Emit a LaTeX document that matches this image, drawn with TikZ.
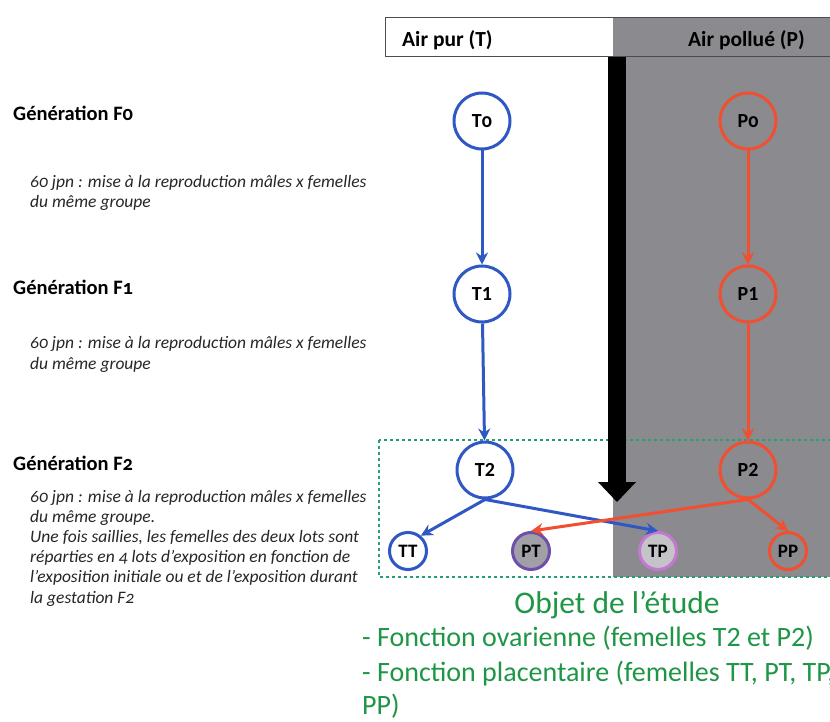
\documentclass[tikz,border=0pt]{standalone}
\usepackage{fontspec}
\setmainfont{Carlito}
\usetikzlibrary{arrows.meta}
\definecolor{tblue}{RGB}{48,88,196}
\definecolor{pred}{RGB}{242,78,48}
\definecolor{bggray}{RGB}{138,138,143}
\definecolor{boxgreen}{RGB}{40,160,110}
\definecolor{txtgreen}{RGB}{30,150,70}
\definecolor{ptfill}{RGB}{160,160,166}
\definecolor{ptborder}{RGB}{110,80,170}
\definecolor{tpfill}{RGB}{196,196,200}
\definecolor{tpborder}{RGB}{196,120,210}
\tikzset{
  bignode/.style={circle, draw, line width=3pt, minimum size=56pt, inner sep=0pt,
    font=\fontsize{20}{22}\selectfont\bfseries},
  smallnode/.style={circle, draw, line width=3pt, minimum size=37pt, inner sep=0pt,
    font=\fontsize{19}{21}\selectfont\bfseries},
  tarrow/.style={tblue, line width=3pt, -{Stealth[length=12pt,width=12pt]}},
  parrow/.style={pred, line width=3pt, -{Stealth[length=12pt,width=12pt]}},
  genhead/.style={anchor=base west, inner sep=0pt, font=\fontsize{20.5}{22}\selectfont\bfseries\addfontfeatures{Numbers=OldStyle}},
  gentext/.style={anchor=base west, inner sep=0pt, align=left, text=black!85,
    font=\fontsize{17.5}{20.2}\selectfont\itshape\addfontfeatures{Numbers=OldStyle}},
  headtext/.style={anchor=base west, inner sep=0pt, font=\fontsize{21.5}{23}\selectfont\bfseries},
  greentext/.style={anchor=base west, inner sep=0pt, text=txtgreen, font=\fontsize{28}{32}\selectfont}
}
\begin{document}
\begin{tikzpicture}[x=1pt,y=-1pt]
\useasboundingbox[fill=white] (0,0) rectangle (830,722);
% grey polluted-air zone
\fill[bggray] (613,18) rectangle (830,577);
% header
\draw[line width=1pt, black!70] (385,18) rectangle (840,57);
\node[headtext] (hT) at (402,47) {Air pur (T)};
\node[headtext] (hP) at (688,47) {Air pollué (P)};
% dashed box F2
\draw[boxgreen, dashed, line width=1.3pt] (379,440) rectangle (840,577);
% black time arrow
\fill[black] (608,57) rectangle (626,483);
\fill[black] (598,482) -- (636,482) -- (617,502) -- cycle;
% left texts (anchored on the baseline of their last line)
\node[genhead] (g0) at (13,121) {Génération F0};
\node[gentext] (d0) at (30,208) {60 jpn : mise à la reproduction mâles x femelles\\du même groupe};
\node[genhead] (g1) at (13,294) {Génération F1};
\node[gentext] (d1) at (30,369) {60 jpn : mise à la reproduction mâles x femelles\\du même groupe};
\node[genhead] (g2) at (13,470) {Génération F2};
\node[gentext] (d2) at (30,603) {60 jpn : mise à la reproduction mâles x femelles\\du même groupe.\\Une fois saillies, les femelles des deux lots  sont\\réparties en 4 lots d’exposition en fonction de\\l’exposition initiale ou et de l’exposition durant\\la gestation F2};
% nodes
\node[bignode, tblue, fill=white, text=black] (T0) at (482,121) {T\addfontfeatures{Numbers=OldStyle}0};
\node[bignode, tblue, fill=white, text=black] (T1) at (482,294) {T1};
\node[bignode, tblue, fill=white, text=black] (T2) at (485,470) {T2};
\node[bignode, pred, text=black] (P0) at (748,121) {P\addfontfeatures{Numbers=OldStyle}0};
\node[bignode, pred, text=black] (P1) at (748,294) {P1};
\node[bignode, pred, text=black] (P2) at (748,470) {P2};
\node[smallnode, tblue, fill=white, text=black] (TT) at (408,551) {TT};
\node[smallnode, ptborder, fill=ptfill, text=black] (PT) at (531,551) {PT};
\node[smallnode, tpborder, fill=tpfill, text=black] (TP) at (658,551) {TP};
\node[smallnode, pred, fill=bggray, text=black] (PP) at (788,551) {PP};
% arrows
\draw[tarrow] (T0) -- (T1);
\draw[tarrow] (T1) -- (T2);
\draw[parrow] (P0) -- (P1);
\draw[parrow] (P1) -- (P2);
\draw[tarrow] (T2.south) -- (TT.50);
\draw[tarrow] (T2.south) -- (TP.north);
\draw[parrow] (P2.south) -- (PT.north);
\draw[parrow] (P2.south) -- (PP.north);
% study object
\node[anchor=base, inner sep=0pt, text=txtgreen, font=\fontsize{31.5}{34}\selectfont] (obj) at (617,613) {Objet de l’étude};
\node[greentext] (f1) at (362,646) {- Fonction ovarienne (femelles T2 et P2)};
\node[greentext] (f2) at (362,681) {- Fonction placentaire (femelles TT, PT, TP,};
\node[greentext] (f3) at (362,714) {PP)};
\end{tikzpicture}
\end{document}
